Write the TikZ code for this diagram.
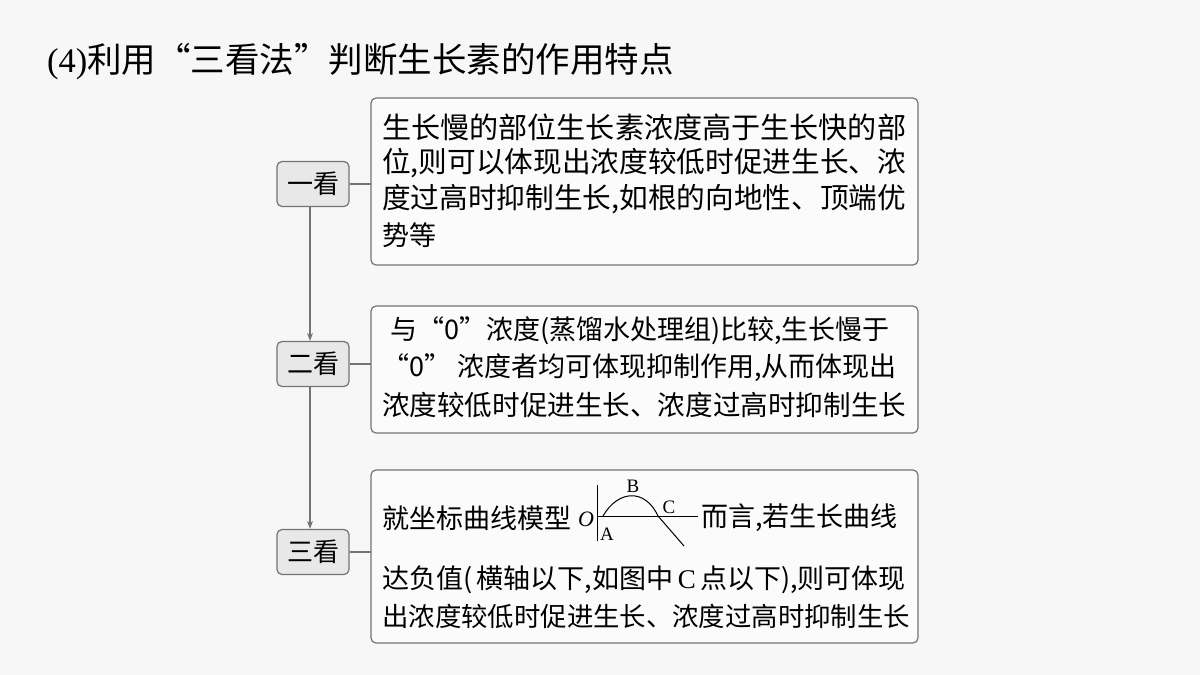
\documentclass[tikz,border=0pt]{standalone}
\usepackage{fontspec}
\setmainfont{Liberation Serif}
\newfontfamily\cjk{Noto Sans CJK SC}
\newcommand\jline[2]{\resizebox{#1pt}{!}{#2}}
\usetikzlibrary{arrows.meta}
\begin{document}
\begin{tikzpicture}[x=1pt,y=-1pt,
  bigbox/.style={draw=black!55,line width=1.2pt,rounded corners=5pt,fill=white!97!gray},
  smallbox/.style={draw=black!55,line width=1.2pt,rounded corners=5pt,fill=black!9},
  txt/.style={anchor=west,inner sep=0pt,font=\cjk\fontsize{27}{30}\selectfont},
  lab/.style={font=\cjk\fontsize{26}{30}\selectfont},
  conn/.style={draw=black!55,line width=1.2pt},
  arr/.style={conn,-{Stealth[length=8pt,width=6pt]}}]
\fill[black!3] (0,0) rectangle (1200,675);
\useasboundingbox (0,0) rectangle (1200,675);
\node[anchor=west,inner sep=0pt,font=\cjk\fontsize{34.5}{38}\selectfont] (title) at (47,62) {{\rmfamily (4)}利用“三看法”判断生长素的作用特点};
% big boxes
\draw[bigbox] (371,98) rectangle (918,265);
\draw[bigbox] (371,306) rectangle (918,433);
\draw[bigbox] (371,470) rectangle (918,643);
\coordinate (b1) at (371,184);
\coordinate (b2) at (371,364);
\coordinate (b3) at (371,552);
% small boxes
\node[smallbox,lab,minimum width=72pt,minimum height=45pt,inner sep=0pt] (k1) at (313,184) {一看};
\node[smallbox,lab,minimum width=72pt,minimum height=45pt,inner sep=0pt] (k2) at (313,364) {二看};
\node[smallbox,lab,minimum width=72pt,minimum height=45pt,inner sep=0pt] (k3) at (313,552) {三看};
\draw[conn] (k1.east) -- (b1);
\draw[conn] (k2.east) -- (b2);
\draw[conn] (k3.east) -- (b3);
\draw[arr] (k1.south -| 310,0) -- (k2.north -| 310,0);
\draw[arr] (k2.south -| 310,0) -- (k3.north -| 310,0);
% box 1 text
\node[txt] (t11) at (382,127) {\jline{524}{生长慢的部位生长素浓度高于生长快的部}};
\node[txt] (t12) at (382,163) {\jline{524}{位,则可以体现出浓度较低时促进生长、浓}};
\node[txt] (t13) at (382,199) {\jline{524}{度过高时抑制生长,如根的向地性、顶端优}};
\node[txt] (t14) at (382,235) {势等};
% box 2 text
\node[txt] (t21) at (390,331) {与“0”浓度(蒸馏水处理组)比较,生长慢于};
\node[txt] (t22) at (382,368) {“0” 浓度者均可体现抑制作用,从而体现出};
\node[txt] (t23) at (382,405) {\jline{524}{浓度较低时促进生长、浓度过高时抑制生长}};
% box 3 text
\node[txt] (t31) at (382,518) {就坐标曲线模型};
\node[txt] (t32) at (701,518) {而言,若生长曲线};
\node[txt] (t33) at (382,580) {达负值({\rmfamily\,}横轴以下,如图中{\rmfamily\,C\,}点以下),则可体现};
\node[txt] (t34) at (382,616) {\jline{528}{出浓度较低时促进生长、浓度过高时抑制生长}};
% graph
\draw[line width=1pt] (597,485) -- (597,541);
\draw[line width=1pt] (597,516) -- (698,516);
\draw[line width=1pt] (603,516) .. controls (618,490) and (645,488) .. (658,516) -- (684,546);
\node[font=\itshape\fontsize{22}{24}\selectfont,inner sep=0pt] (O) at (586,519) {O};
\node[font=\fontsize{19}{22}\selectfont,inner sep=0pt] (A) at (607,534) {A};
\node[font=\fontsize{19}{22}\selectfont,inner sep=0pt] (B) at (633,486) {B};
\node[font=\fontsize{19}{22}\selectfont,inner sep=0pt] (C) at (669,507) {C};
\end{tikzpicture}
\end{document}
